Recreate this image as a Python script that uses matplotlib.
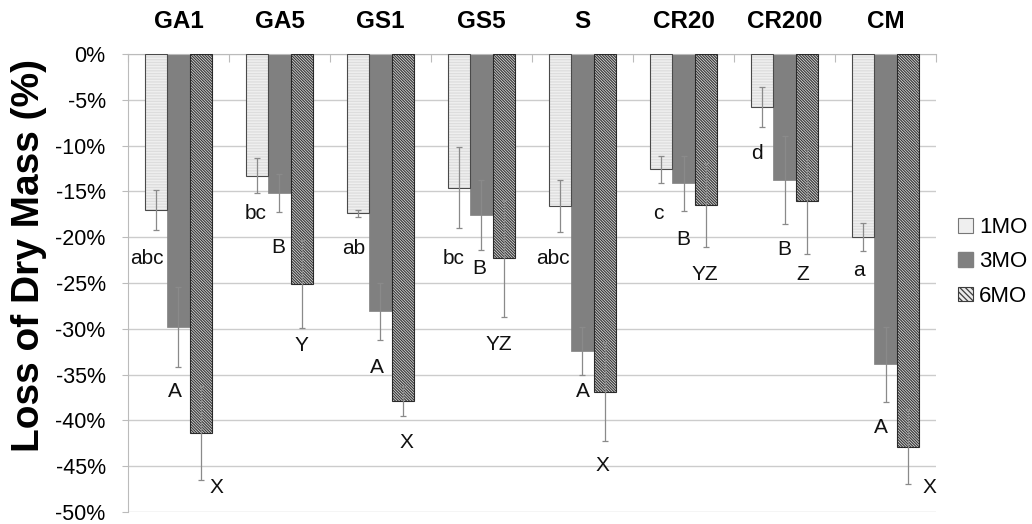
import matplotlib.pyplot as plt
import matplotlib.ticker as mticker
import numpy as np

plt.rcParams['font.family'] = ['Liberation Sans', 'DejaVu Sans']
plt.rcParams['hatch.linewidth'] = 0.9

sites = ['GA1', 'GA5', 'GS1', 'GS5', 'S', 'CR20', 'CR200', 'CM']
periods = ['1MO', '3MO', '6MO']

# mean loss of dry mass (%) per site
mo1 = [-17.0, -13.3, -17.4, -14.6, -16.6, -12.6, -5.8, -20.0]
mo3 = [-29.8, -15.2, -28.1, -17.6, -32.4, -14.1, -13.8, -33.9]
mo6 = [-41.4, -25.1, -37.9, -22.3, -36.9, -16.5, -16.1, -42.9]

# standard errors
err1 = [2.2, 1.9, 0.4, 4.4, 2.8, 1.5, 2.2, 1.5]
err3 = [4.4, 2.1, 3.1, 3.8, 2.6, 3.0, 4.8, 4.1]
err6 = [5.1, 4.8, 1.6, 6.4, 5.4, 4.6, 5.7, 4.1]

# significance letters
let1 = ['abc', 'bc', 'ab', 'bc', 'abc', 'c', 'd', 'a']
let3 = ['A', 'B', 'A', 'B', 'A', 'B', 'B', 'A']
let6 = ['X', 'Y', 'X', 'YZ', 'X', 'YZ', 'Z', 'X']

# where each letter sits (x offset from group centre, y in %)
let1_dx = [-0.31, -0.24, -0.27, -0.28, -0.29, -0.25, -0.27, -0.26]
let1_y = [-22.3, -17.4, -21.2, -22.3, -22.3, -17.4, -10.9, -23.6]
let3_dx = [-0.035, -0.015, -0.035, -0.025, 0.0, 0.0, 0.0, -0.05]
let3_y = [-36.9, -21.1, -34.2, -23.4, -36.9, -20.3, -21.4, -40.8]
let6_dx = [0.38, 0.22, 0.26, 0.17, 0.20, 0.21, 0.18, 0.44]
let6_y = [-47.3, -31.8, -42.4, -31.7, -44.9, -24.1, -24.1, -47.3]

fig = plt.figure(figsize=(10.32, 5.24), dpi=100)
ax = fig.add_axes([0.124, 0.023, 0.783, 0.874])

x = np.arange(len(sites))
w = 0.222
ecol = '#8a8a8a'
hatch1 = '-' * 6
hatch6 = '\\' * 12

# 1MO: light grey with fine horizontal stripes
ax.bar(x - w, mo1, w, color='#efefef', hatch=hatch1, edgecolor='#dddddd', linewidth=0, zorder=2)
ax.bar(x - w, mo1, w, fill=False, edgecolor='#4a4a4a', linewidth=0.8, zorder=3)
# 3MO: solid grey
ax.bar(x, mo3, w, color='#808080', edgecolor='#808080', linewidth=0.5, zorder=2)
# 6MO: dense diagonal hatch
ax.bar(x + w, mo6, w, color='#eaeaea', hatch=hatch6, edgecolor='#3c3c3c', linewidth=0, zorder=2)
ax.bar(x + w, mo6, w, fill=False, edgecolor='#2a2a2a', linewidth=0.8, zorder=3)

for off, vals, errs in [(-w, mo1, err1), (0, mo3, err3), (w, mo6, err6)]:
    ax.errorbar(x + off, vals, yerr=errs, fmt='none', ecolor=ecol,
                elinewidth=0.9, capsize=2.5, capthick=0.9, zorder=4)

for labs, dxs, ys in [(let1, let1_dx, let1_y), (let3, let3_dx, let3_y), (let6, let6_dx, let6_y)]:
    for i in range(len(sites)):
        ax.text(x[i] + dxs[i], ys[i], labs[i], ha='center', va='center',
                fontsize=15, color='#111111', zorder=5)

ax.set_xlim(-0.5, len(sites) - 0.5)
ax.set_ylim(-50, 0)
ax.yaxis.set_major_locator(mticker.MultipleLocator(5))
ax.yaxis.set_major_formatter(mticker.FuncFormatter(lambda v, p: '%d%%' % round(v)))
ax.grid(axis='y', color='#cccccc', linewidth=1, zorder=0)
ax.set_axisbelow(True)

# category names along the top, ticks at group borders
ax.xaxis.tick_top()
ax.set_xticks(np.arange(len(sites) + 1) - 0.5)
ax.set_xticklabels([])
ax.set_xticks(x, minor=True)
ax.set_xticklabels(sites, minor=True, fontsize=17.5, fontweight='bold')
ax.tick_params(axis='x', which='major', direction='in', length=6, color='#bbbbbb')
ax.tick_params(axis='x', which='minor', length=0, pad=15)
ax.tick_params(axis='y', direction='out', length=4, color='#bbbbbb', labelsize=15.5, pad=12)

for s in ['right', 'bottom']:
    ax.spines[s].set_visible(False)
ax.spines['left'].set_color('#bbbbbb')
ax.spines['top'].set_color('#bbbbbb')

ax.set_ylabel('Loss of Dry Mass (%)', fontsize=28, fontweight='bold')
ax.yaxis.set_label_coords(-0.1, 0.561)

handles = [plt.Rectangle((0, 0), 1, 1, facecolor='#efefef', edgecolor='#777777', linewidth=0.8),
           plt.Rectangle((0, 0), 1, 1, facecolor='#808080', edgecolor='#808080'),
           plt.Rectangle((0, 0), 1, 1, facecolor='#eaeaea', hatch='\\' * 6, edgecolor='#3c3c3c', linewidth=0.8)]
ax.legend(handles, periods, loc='center left', bbox_to_anchor=(1.0, 0.546), frameon=False,
          fontsize=16, handlelength=0.65, handleheight=0.65, handletextpad=0.3, labelspacing=0.6,
          borderaxespad=0.6)

plt.savefig('out.png', dpi=100)
